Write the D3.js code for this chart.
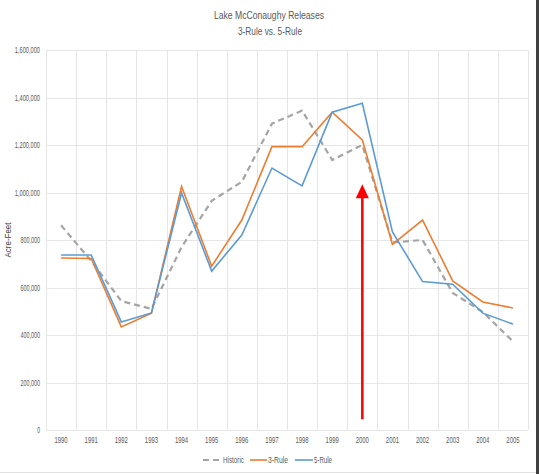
<!DOCTYPE html>
<html>
<head>
<meta charset="utf-8">
<script src="https://cdn.jsdelivr.net/npm/d3@7"></script>
<style>
  html, body { margin: 0; padding: 0; background: #fff; }
  svg { display: block; }
  text { font-family: "Liberation Sans Narrow", "Liberation Sans", "Open Sans", sans-serif; fill: #595959; }
</style>
</head>
<body>
<svg id="chart" width="539" height="474"></svg>
<script>
const years = ["1990","1991","1992","1993","1994","1995","1996","1997","1998","1999","2000","2001","2002","2003","2004","2005"];
const historic = [862000, 712000, 543000, 510000, 770000, 965000, 1045000, 1290000, 1345000, 1137000, 1200000, 790000, 800000, 577000, 497000, 373000];
const rule3 = [724000, 722000, 434000, 492000, 1025000, 690000, 884000, 1193000, 1193000, 1338000, 1221000, 782000, 884000, 628000, 539000, 514000];
const rule5 = [737000, 737000, 455000, 493000, 998000, 669000, 821000, 1103000, 1028000, 1338000, 1376000, 834000, 625000, 614000, 492000, 446000];
const yTicks = [0, 200000, 400000, 600000, 800000, 1000000, 1200000, 1400000, 1600000];
const seriesNames = ["Historic", "3-Rule", "5-Rule"];
const arrowYear = "2000";
const arrowFrom = 45000;
const arrowTo = 1035000;

const svg = d3.select("#chart");
const W = 539, H = 474;
const m = {left: 46, right: 11, top: 50, bottom: 44};
const x = d3.scaleBand().domain(years).range([m.left, W - m.right]);
const y = d3.scaleLinear().domain([0, 1600000]).range([H - m.bottom, m.top]);
const cx = d => x(d) + x.bandwidth() / 2;
const fitText = (sel, perChar) => sel.each(function() {
  const t = d3.select(this);
  const n = t.text().length;
  t.attr("textLength", n * perChar).attr("lengthAdjust", "spacingAndGlyphs");
});

// frame
svg.append("rect").attr("x", 536).attr("y", 0).attr("width", 3).attr("height", H).attr("fill", "#404040");
svg.append("line").attr("x1", 0).attr("x2", 536).attr("y1", 472.5).attr("y2", 472.5).attr("stroke", "#e2e2e2");

// horizontal gridlines
svg.append("g").selectAll("line").data(yTicks).join("line")
  .attr("x1", m.left).attr("x2", W - m.right)
  .attr("y1", d => Math.round(y(d)) + 0.5).attr("y2", d => Math.round(y(d)) + 0.5)
  .attr("stroke", "#e6e6e6").attr("stroke-width", 1);
// vertical gridlines between categories
const bounds = years.map(d => x(d)).concat([W - m.right]);
svg.append("g").selectAll("line").data(bounds).join("line")
  .attr("x1", d => Math.round(d) + 0.5).attr("x2", d => Math.round(d) + 0.5)
  .attr("y1", m.top).attr("y2", H - m.bottom)
  .attr("stroke", "#e6e6e6").attr("stroke-width", 1);

// axes
const fmt = d3.format(",");
const yAxis = svg.append("g").attr("transform", `translate(${m.left - 6},0)`)
  .call(d3.axisLeft(y).tickValues(yTicks).tickFormat(fmt).tickSize(0).tickPadding(0));
yAxis.select(".domain").remove();
yAxis.selectAll("text").attr("font-size", 8.8).style("fill", "#595959").call(fitText, 2.8);

const xAxis = svg.append("g").attr("transform", `translate(0,${H - m.bottom + 7})`)
  .call(d3.axisBottom(x).tickSize(0).tickPadding(0));
xAxis.select(".domain").remove();
xAxis.selectAll("text").attr("font-size", 8.8).attr("dy", "0.71em").style("fill", "#595959").call(fitText, 3.3);

// axis title
svg.append("text").attr("transform", "translate(11,240) rotate(-90)")
  .attr("text-anchor", "middle").attr("font-size", 8.5).style("fill", "#404040")
  .attr("textLength", 35).attr("lengthAdjust", "spacingAndGlyphs").text("Acre-Feet");

// title
svg.append("text").attr("x", 269).attr("y", 19).attr("text-anchor", "middle").attr("font-size", 11.5)
  .attr("textLength", 110).attr("lengthAdjust", "spacingAndGlyphs").text("Lake McConaughy Releases");
svg.append("text").attr("x", 270).attr("y", 35).attr("text-anchor", "middle").attr("font-size", 11.5)
  .attr("textLength", 64).attr("lengthAdjust", "spacingAndGlyphs").text("3-Rule vs. 5-Rule");

// lines
const line = d3.line().x((d, i) => cx(years[i])).y(d => y(d));
const series = [
  {name: seriesNames[0], values: historic, color: "#a5a5a5", dash: "6,4", width: 2.2, tw: 21},
  {name: seriesNames[1], values: rule3, color: "#ed7d31", dash: null, width: 1.6, tw: 20},
  {name: seriesNames[2], values: rule5, color: "#5b9bd5", dash: null, width: 1.6, tw: 18}
];
series.forEach(s => {
  svg.append("path").datum(s.values).attr("d", line)
    .attr("fill", "none").attr("stroke", s.color).attr("stroke-width", s.width)
    .attr("stroke-dasharray", s.dash).attr("stroke-linejoin", "miter");
});

// red arrow
const ax = cx(arrowYear);
const yTip = y(arrowTo);
svg.append("line").attr("x1", ax).attr("x2", ax).attr("y1", y(arrowFrom)).attr("y2", yTip + 12)
  .attr("stroke", "#ff0000").attr("stroke-width", 2.5);
svg.append("path").attr("d", `M${ax},${yTip} L${ax - 6.5},${yTip + 14} L${ax + 6.5},${yTip + 14} Z`).attr("fill", "#ff0000");

// legend
const lg = svg.append("g").attr("transform", "translate(0,460)");
const legendItems = [
  {s: series[0], x0: 203, x1: 221, tx: 223},
  {s: series[1], x0: 250, x1: 267, tx: 268},
  {s: series[2], x0: 295, x1: 313, tx: 314}
];
legendItems.forEach(it => {
  lg.append("line").attr("x1", it.x0).attr("x2", it.x1).attr("y1", 0).attr("y2", 0)
    .attr("stroke", it.s.color).attr("stroke-width", it.s.width).attr("stroke-dasharray", it.s.dash);
  lg.append("text").attr("x", it.tx).attr("y", 0).attr("dy", "0.35em").attr("font-size", 8.8)
    .attr("textLength", it.s.tw).attr("lengthAdjust", "spacingAndGlyphs").text(it.s.name);
});
</script>
</body>
</html>
